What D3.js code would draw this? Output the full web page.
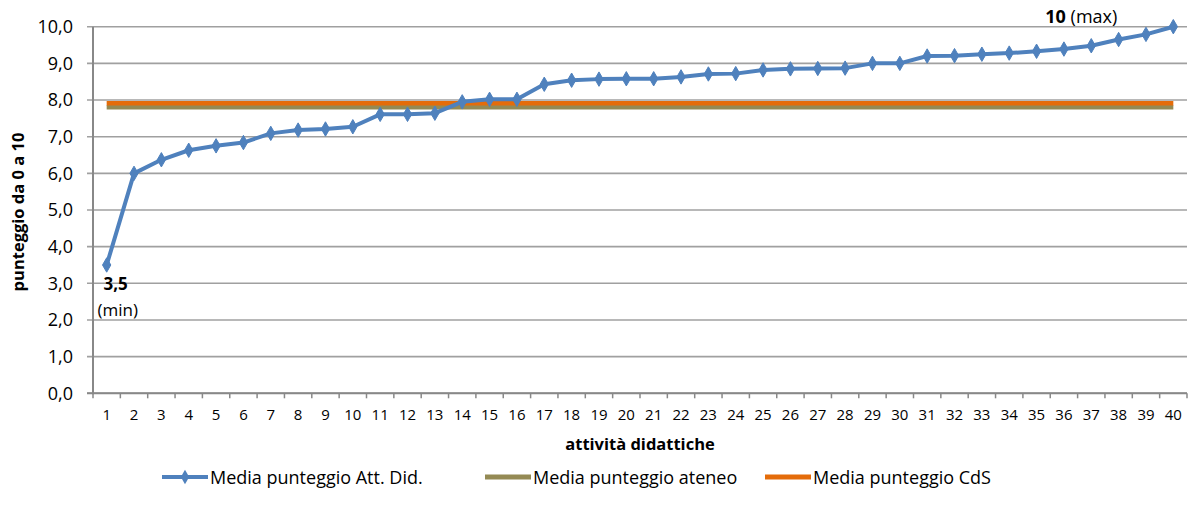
<!DOCTYPE html>
<html><head><meta charset="utf-8">
<script src="https://cdn.jsdelivr.net/npm/d3@7"></script>
<style>
body{margin:0;background:#fff;}
text{font-family:"Open Sans",sans-serif;fill:#000;}
</style></head>
<body><svg id="c" width="1193" height="515"></svg>
<script>
const categories = d3.range(1, 41).map(String);
const mediaAttDid = [3.5,6.0,6.37,6.63,6.75,6.84,7.09,7.18,7.21,7.27,7.61,7.61,7.64,7.95,8.02,8.02,8.43,8.54,8.57,8.58,8.58,8.63,8.71,8.72,8.82,8.85,8.86,8.87,9.0,9.0,9.2,9.21,9.25,9.28,9.33,9.39,9.48,9.65,9.79,10.0];
const mediaAteneo = 7.8;
const mediaCdS = 7.91;
const yTicks = [0,1,2,3,4,5,6,7,8,9,10];
const seriesNames = ["Media punteggio Att. Did.","Media punteggio ateneo","Media punteggio CdS"];
const colors = ["#4F81BD","#948A54","#E46C0A"];

const svg = d3.select("#c");
const L = 93, R = 1187, T = 26.7, B = 393.3;
const x = d3.scaleBand().domain(categories).range([L, R]).padding(0);
const y = d3.scaleLinear().domain([0, 10]).range([B, T]);
const cx = c => x(c) + x.bandwidth() / 2;
const fmt = v => d3.format(".1f")(v).replace(".", ",");

// gridlines
svg.append("g").selectAll("line").data(yTicks).join("line")
  .attr("x1", L - 6).attr("x2", R).attr("y1", d => y(d)).attr("y2", d => y(d))
  .attr("stroke", "#A0A0A0").attr("stroke-width", 1.6);

// y axis labels
const ya = svg.append("g").attr("transform", `translate(${L},0)`)
  .call(d3.axisLeft(y).tickValues(yTicks).tickFormat(fmt).tickSize(0).tickPadding(20));
ya.select(".domain").remove();
ya.selectAll("text").style("font-size", "18px").style("font-family", "Open Sans");

// y axis line
svg.append("line").attr("x1", L).attr("x2", L).attr("y1", T).attr("y2", B + 1)
  .attr("stroke", "#888").attr("stroke-width", 2);
// x axis line
svg.append("line").attr("x1", L - 6).attr("x2", R).attr("y1", B).attr("y2", B)
  .attr("stroke", "#888").attr("stroke-width", 2);
// x boundary ticks
svg.append("g").selectAll("line").data(categories.concat(["end"])).join("line")
  .attr("x1", d => d === "end" ? R : x(d)).attr("x2", d => d === "end" ? R : x(d))
  .attr("y1", B).attr("y2", B + 5).attr("stroke", "#888").attr("stroke-width", 1.5);

// x labels
const xa = svg.append("g").attr("transform", `translate(0,${B})`)
  .call(d3.axisBottom(x).tickSize(0).tickPadding(16));
xa.select(".domain").remove();
xa.selectAll("text").style("font-size", "15px").style("font-family", "Open Sans");

// reference lines
const line = d3.line().x(d => cx(d.c)).y(d => y(d.v));
svg.append("path").datum(categories.map(c => ({c, v: mediaAteneo})))
  .attr("d", line).attr("fill", "none").attr("stroke", colors[1]).attr("stroke-width", 4.5);
svg.append("path").datum(categories.map(c => ({c, v: mediaCdS})))
  .attr("d", line).attr("fill", "none").attr("stroke", colors[2]).attr("stroke-width", 4.5);

// main series
const pts = categories.map((c, i) => ({c, v: mediaAttDid[i]}));
svg.append("path").datum(pts).attr("d", line).attr("fill", "none")
  .attr("stroke", colors[0]).attr("stroke-width", 4).attr("stroke-linejoin", "round");
const diamond = d3.symbol().type(d3.symbolDiamond).size(60);
svg.append("g").selectAll("path").data(pts).join("path")
  .attr("d", diamond).attr("transform", d => `translate(${cx(d.c)},${y(d.v)})`)
  .attr("fill", colors[0]).attr("stroke", colors[0]).attr("stroke-width", 1);

// annotations
const minP = pts[0], maxP = pts[pts.length - 1];
svg.append("text").attr("x", cx(minP.c) + 9).attr("y", y(minP.v) + 25)
  .attr("text-anchor", "middle").style("font-size", "17px").style("font-weight", "bold").text("3,5");
svg.append("text").attr("x", cx(minP.c) + 11).attr("y", y(minP.v) + 51)
  .attr("text-anchor", "middle").style("font-size", "17px").text("(min)");
const mt = svg.append("text").attr("x", cx(maxP.c) - 92).attr("y", y(maxP.v) - 4)
  .attr("text-anchor", "middle").style("font-size", "18px");
mt.append("tspan").style("font-weight", "bold").text("10");
mt.append("tspan").text(" (max)");

// axis titles
svg.append("text").attr("x", 640).attr("y", 450).attr("text-anchor", "middle")
  .style("font-size", "16.5px").style("font-weight", "bold").text("attività didattiche");
svg.append("text").attr("transform", `translate(24,${(T + B) / 2 + 2}) rotate(-90)`)
  .attr("text-anchor", "middle").style("font-size", "16.5px").style("font-weight", "bold")
  .text("punteggio da 0 a 10");

// legend
const legX = [162, 485, 765];
const lg = svg.append("g").selectAll("g").data(seriesNames).join("g")
  .attr("transform", (d, i) => `translate(${legX[i]},477)`);
lg.append("line").attr("x1", 0).attr("x2", 46).attr("y1", 0).attr("y2", 0)
  .attr("stroke", (d, i) => colors[i]).attr("stroke-width", (d, i) => i === 0 ? 4 : 5);
lg.filter((d, i) => i === 0).append("path").attr("d", diamond)
  .attr("transform", "translate(23,0)").attr("fill", colors[0]);
lg.append("text").attr("x", 48).attr("y", 6.5).style("font-size", "18px").text(d => d);
</script></body></html>
